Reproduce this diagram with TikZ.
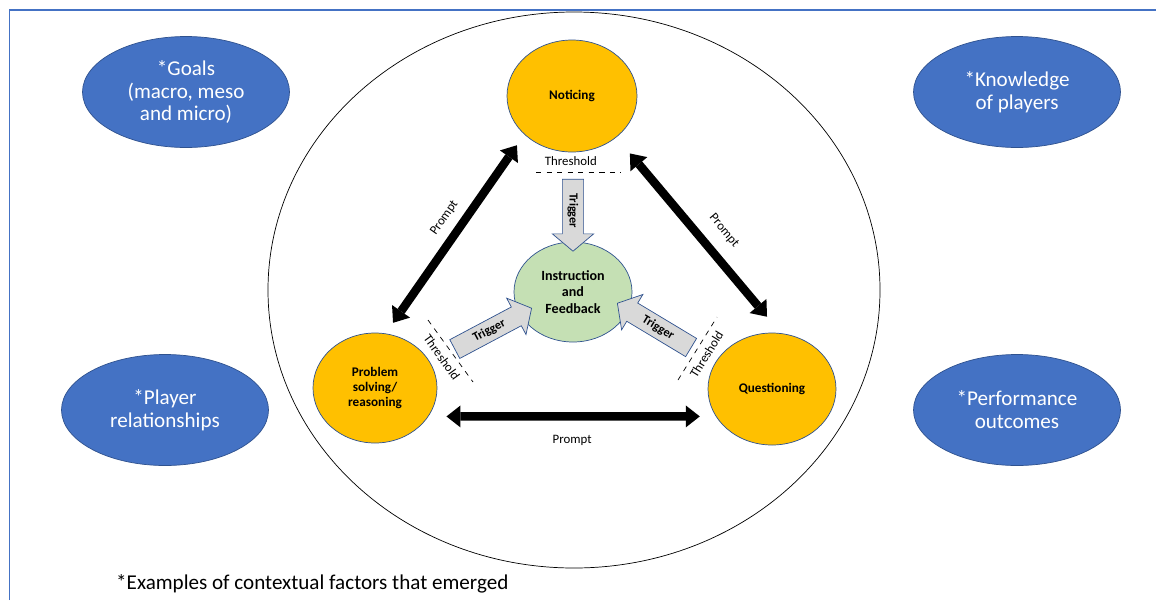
\documentclass[tikz,border=0pt]{standalone}
\usepackage{fontspec}
\setmainfont{Carlito}
\usetikzlibrary{positioning, arrows.meta, shapes.geometric, shapes.arrows, calc}

\definecolor{officeblue}{HTML}{4472C4}
\definecolor{darkblue}{HTML}{2F528F}
\definecolor{gold}{HTML}{FFC000}
\definecolor{palegreen}{HTML}{C5E0B4}
\definecolor{triggergray}{HTML}{D9D9D9}

\begin{document}
\begin{tikzpicture}[
    factor/.style={ellipse, draw=darkblue, thin, fill=officeblue, minimum width=4.14cm, minimum height=2.22cm, inner sep=0pt, align=center, text=white, font=\fontsize{12}{13}\selectfont},
    process/.style={ellipse, draw=darkblue, thin, fill=gold, inner sep=0pt, align=center, font=\fontsize{7.5}{8.5}\selectfont\bfseries},
    core/.style={ellipse, draw=darkblue, thin, fill=palegreen, inner sep=0pt, align=center, font=\fontsize{8}{9.2}\selectfont\bfseries},
    prompt/.style={draw, line width=0.17cm, {Triangle[width=0.44cm, length=0.28cm, line width=0pt]}-{Triangle[width=0.44cm, length=0.28cm, line width=0pt]}},
    trigger/.style={single arrow, draw=darkblue, thin, fill=triggergray, single arrow head extend=0.2cm, single arrow tip angle=100, inner xsep=2pt, inner ysep=2.8pt, font=\fontsize{7}{8}\selectfont\bfseries},
    threshold/.style={draw, thin, dashed},
    small/.style={font=\fontsize{7.3}{8.5}\selectfont}
]
    \useasboundingbox (0,0) rectangle (23.12,-12);

    % Frame ===========================
    \draw[officeblue, line width=1.1pt] (0.19,-12) -- (0.19,-0.2) -- (23.12,-0.2);

    % Outer circle ===========================
    \node[ellipse, draw, thin, minimum width=12.24cm, minimum height=11.12cm] (outer) at (11.48,-5.8) {};

    % Processes ===========================
    \node[process, minimum width=2.6cm, minimum height=2.24cm] (notice) at (11.44,-1.92) {Noticing};
    \node[process, minimum width=2.48cm, minimum height=2.2cm] (probsolve) at (7.5,-7.76) {Problem\\solving/\\reasoning};
    \node[process, minimum width=2.56cm, minimum height=2.24cm] (question) at (15.44,-7.78) {Questioning};
    \node[core, minimum width=2.36cm, minimum height=2cm] (instrfb) at (11.46,-5.84) {Instruction\\and\\Feedback};

    % Contextual factors ===========================
    \node[factor] (goals) at (3.72,-1.84) {*Goals\\(macro, meso\\and micro)};
    \node[factor] (knowledge) at (20.34,-1.84) {*Knowledge\\of players};
    \node[factor] (relations) at (3.3,-8.2) {*Player\\relationships};
    \node[factor] (performance) at (20.34,-8.2) {*Performance\\outcomes};

    % Prompts ===========================
    \draw[prompt, shorten <=0.26cm, shorten >=0.26cm] (probsolve.79) -- node[small, sloped, above=1.5pt, pos=0.53] {Prompt} (notice.219);
    \draw[prompt, shorten <=0.42cm, shorten >=0.43cm] (notice.-43) -- node[small, sloped, above=4pt, pos=0.55] {Prompt} (question.81);
    \draw[prompt, shorten <=0.36cm, shorten >=0.32cm] (probsolve.-28) -- node[small, below=5pt] {Prompt} (question.206);

    % Thresholds ===========================
    \draw[threshold] (10.72,-3.44) -- node[small, above, pos=0.41] {Threshold} (12.42,-3.44);
    \draw[threshold] (8.56,-6.4) -- node[small, sloped, below] {Threshold} (9.46,-7.64);
    \draw[threshold] (13.56,-7.6) -- node[small, sloped, below] {Threshold} (14.34,-6.34);

    % Triggers ===========================
    \node[trigger, minimum height=1.44cm, rotate=-90, anchor=tip] (trigtop) at ($(instrfb.north)+(0,-0.2)$) {Trigger};
    \node[trigger, minimum height=1.74cm, rotate=28, anchor=tip] (trigleft) at ($(instrfb)+(-0.82,-0.32)$) {Trigger};
    \node[trigger, minimum height=1.72cm, rotate=-31, shape border rotate=180, anchor=tip] (trigright) at ($(instrfb)+(0.88,-0.22)$) {Trigger};

    % Note ===========================
    \node[anchor=west, font=\fontsize{12}{14}\selectfont] (note) at (2.2,-11.68) {*Examples of contextual factors that emerged};

\end{tikzpicture}
\end{document}
